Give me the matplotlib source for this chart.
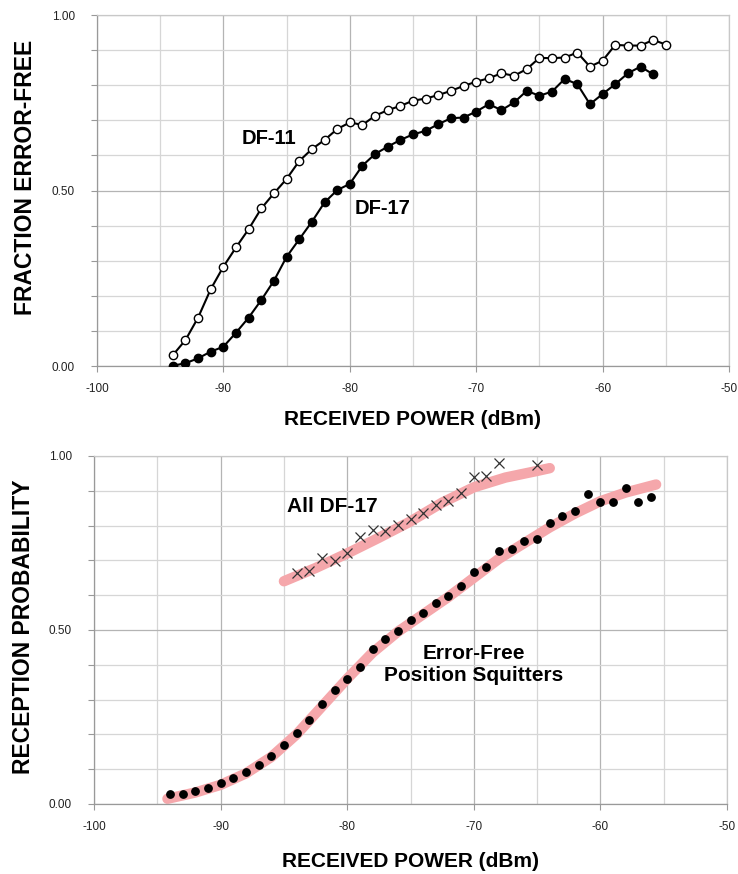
import numpy as np
from matplotlib import pyplot as plt
from matplotlib.ticker import MultipleLocator

plt.rcParams['font.family'] = ['Liberation Sans', 'DejaVu Sans']
plt.rcParams['axes.unicode_minus'] = False

# 上图：各接收功率下的无误码比例
df11_power = list(range(-94, -54))
df11_frac = [0.031, 0.074, 0.138, 0.219, 0.283, 0.338, 0.390, 0.449, 0.492, 0.533,
             0.584, 0.618, 0.644, 0.675, 0.694, 0.687, 0.713, 0.729, 0.741, 0.756,
             0.762, 0.772, 0.784, 0.798, 0.810, 0.820, 0.834, 0.827, 0.846, 0.878,
             0.877, 0.879, 0.893, 0.853, 0.870, 0.915, 0.913, 0.913, 0.929, 0.916]
df17_power = list(range(-94, -55))
df17_frac = [0.001, 0.008, 0.022, 0.041, 0.055, 0.095, 0.138, 0.188, 0.243, 0.311,
             0.361, 0.411, 0.466, 0.501, 0.519, 0.571, 0.604, 0.625, 0.644, 0.660,
             0.670, 0.689, 0.706, 0.708, 0.725, 0.746, 0.729, 0.751, 0.784, 0.770,
             0.782, 0.818, 0.803, 0.746, 0.775, 0.803, 0.834, 0.853, 0.831]

# 下图：接收概率
all17_power = [-84, -83, -82, -81, -80, -79, -78, -77, -76, -75, -74, -73, -72,
               -71, -70, -69, -68, -65]
all17_prob = [0.665, 0.670, 0.706, 0.699, 0.722, 0.768, 0.787, 0.785, 0.802, 0.819,
              0.837, 0.859, 0.872, 0.893, 0.939, 0.941, 0.979, 0.974]
all17_fit_power = [-85, -82.5, -80, -77.5, -75, -72.5, -70, -67.5, -65, -64]
all17_fit_prob = [0.640, 0.678, 0.720, 0.765, 0.812, 0.866, 0.910, 0.938, 0.957, 0.965]

squit_power = list(range(-94, -55))
squit_prob = [0.029, 0.029, 0.037, 0.045, 0.059, 0.074, 0.093, 0.112, 0.139, 0.170,
              0.205, 0.241, 0.287, 0.328, 0.360, 0.395, 0.444, 0.473, 0.497, 0.529,
              0.550, 0.577, 0.598, 0.627, 0.666, 0.682, 0.728, 0.732, 0.757, 0.761,
              0.807, 0.828, 0.842, 0.891, 0.869, 0.869, 0.907, 0.869, 0.883]
squit_fit_power = [-94.2, -92, -90, -88, -86, -84, -82, -80, -78, -76, -74, -72,
                   -70, -68, -66, -64, -62, -60, -58, -55.6]
squit_fit_prob = [0.015, 0.033, 0.055, 0.088, 0.135, 0.200, 0.280, 0.360, 0.435, 0.495,
                  0.545, 0.595, 0.650, 0.705, 0.750, 0.795, 0.835, 0.870, 0.895, 0.918]

y_ticklabels = ['0.00', '0.50', '1.00']
pink = '#f5a7ab'


def setup_axes(ax, ylabel, ylabel_pos, xlabel_y):
    ax.set_xlim(-100, -50)
    ax.set_ylim(0, 1)
    ax.xaxis.set_major_locator(MultipleLocator(10))
    ax.xaxis.set_minor_locator(MultipleLocator(5))
    ax.yaxis.set_major_locator(MultipleLocator(0.5))
    ax.yaxis.set_minor_locator(MultipleLocator(0.1))
    ax.set_yticks([0, 0.5, 1.0])
    ax.set_yticklabels(y_ticklabels)
    ax.grid(which='major', color='#b4b4b4', linewidth=0.9)
    ax.grid(which='minor', color='#d6d6d6', linewidth=0.9)
    ax.set_axisbelow(True)
    for s in ax.spines.values():
        s.set_color('#c8c8c8')
        s.set_linewidth(0.9)
    ax.spines['left'].set_color('#999999')
    ax.spines['bottom'].set_color('#999999')
    ax.tick_params(axis='y', which='both', direction='out', length=4, width=0.8,
                   color='#999999', pad=12, labelsize=8.5, labelcolor='#222222')
    ax.tick_params(axis='x', which='major', direction='out', length=4, width=0.8,
                   color='#999999', pad=8, labelsize=8.5, labelcolor='#222222')
    ax.tick_params(axis='x', which='minor', length=0)
    ax.set_xlabel('RECEIVED POWER (dBm)', fontsize=15, fontweight='bold')
    ax.xaxis.set_label_coords(0.5, xlabel_y)
    ax.set_ylabel(ylabel, fontsize=16.5, fontweight='bold')
    ax.yaxis.set_label_coords(*ylabel_pos)


fig = plt.figure(figsize=(7.38, 8.74), dpi=100)

# 上图
ax1 = fig.add_axes([0.1314, 0.5812, 0.8564, 0.4016])
setup_axes(ax1, 'FRACTION ERROR-FREE', (-0.095, 0.538), -0.125)
ax1.plot(df17_power, df17_frac, '-o', color='black', linewidth=1.5,
         markersize=6, markerfacecolor='black', markeredgecolor='black', zorder=3)
ax1.plot(df11_power, df11_frac, '-o', color='black', linewidth=1.5,
         markersize=6, markerfacecolor='white', markeredgecolor='black',
         markeredgewidth=1.0, zorder=4)
ax1.text(-86.4, 0.649, 'DF-11', fontsize=14.5, fontweight='bold', ha='center', va='center')
ax1.text(-77.4, 0.449, 'DF-17', fontsize=14.5, fontweight='bold', ha='center', va='center')

# 下图
ax2 = fig.add_axes([0.1274, 0.0801, 0.8577, 0.3982])
setup_axes(ax2, 'RECEPTION PROBABILITY', (-0.093, 0.509), -0.138)
ax2.plot(all17_fit_power, all17_fit_prob, color=pink, linewidth=7.5,
         solid_capstyle='round', solid_joinstyle='round', zorder=2)
ax2.plot(squit_fit_power, squit_fit_prob, color=pink, linewidth=7.5,
         solid_capstyle='round', solid_joinstyle='round', zorder=2)
ax2.plot(all17_power, all17_prob, 'x', color='#333333', markersize=6.5,
         markeredgewidth=0.9, zorder=3)
ax2.plot(squit_power, squit_prob, 'o', color='black', markersize=5.3, zorder=3)
ax2.text(-81.2, 0.854, 'All DF-17', fontsize=15, fontweight='bold', ha='center', va='center')
ax2.text(-70.0, 0.402, 'Error-Free\nPosition Squitters', fontsize=15, fontweight='bold',
         ha='center', va='center', linespacing=1.2)

fig.savefig('out.png', dpi=100)
